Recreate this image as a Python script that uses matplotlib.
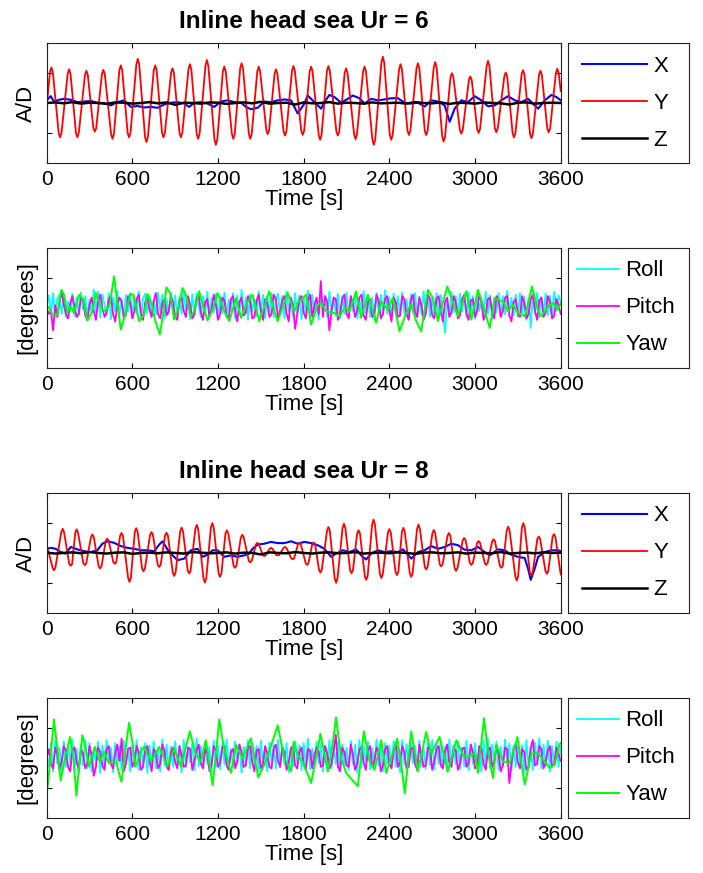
import numpy as np
import matplotlib.pyplot as plt

plt.rcParams['font.family'] = ['Liberation Sans', 'DejaVu Sans']

# ---------------- Ur = 6 : A/D motions ----------------
# Y (cross-flow) : extrema with shoulders, time [s]
y6_t = [0,
        23, 33, 43, 84, 94, 104,
        147, 157, 167, 205, 215, 225,
        268, 278, 288, 327, 337, 347,
        387, 397, 407, 451, 461, 471,
        509, 519, 529, 567, 577, 587,
        628, 638, 648, 689, 699, 709,
        750, 760, 770, 808, 818, 828,
        871, 881, 891, 930, 940, 950,
        993, 1003, 1013, 1051, 1061, 1071,
        1112, 1122, 1132, 1175, 1185, 1195,
        1234, 1244, 1254, 1297, 1307, 1317,
        1355, 1365, 1375, 1416, 1426, 1436,
        1475, 1485, 1495, 1538, 1548, 1558,
        1596, 1606, 1616, 1659, 1669, 1679,
        1718, 1728, 1738, 1783, 1793, 1803,
        1842, 1852, 1862, 1905, 1915, 1925,
        1963, 1973, 1983, 2029, 2039, 2049,
        2087, 2097, 2107, 2153, 2163, 2173,
        2216, 2226, 2236, 2281, 2291, 2301,
        2344, 2354, 2364, 2403, 2413, 2423,
        2468, 2478, 2488, 2527, 2537, 2547,
        2590, 2600, 2610, 2648, 2658, 2668,
        2711, 2721, 2731, 2770, 2780, 2790,
        2828, 2838, 2848, 2894, 2904, 2914,
        2957, 2967, 2977, 3015, 3025, 3035,
        3081, 3091, 3101, 3139, 3149, 3159,
        3205, 3215, 3225, 3263, 3273, 3283,
        3326, 3336, 3346, 3385, 3395, 3405,
        3448, 3458, 3468, 3506, 3516, 3526,
        3566, 3576, 3586, 3600]
y6_v = [-0.12,
        1.04, 1.19, 1.04, -1.0, -1.15, -1.0,
        0.98, 1.13, 0.98, -1.0, -1.15, -1.0,
        0.94, 1.08, 0.94, -0.84, -0.96, -0.84,
        0.97, 1.11, 0.97, -1.04, -1.2, -1.04,
        1.1, 1.26, 1.1, -1.0, -1.15, -1.0,
        1.29, 1.48, 1.29, -1.14, -1.31, -1.14,
        1.1, 1.26, 1.1, -1.0, -1.15, -1.0,
        1.01, 1.16, 1.01, -1.0, -1.15, -1.0,
        1.13, 1.3, 1.13, -1.04, -1.2, -1.04,
        1.25, 1.44, 1.25, -1.22, -1.4, -1.22,
        1.06, 1.22, 1.06, -1.04, -1.2, -1.04,
        1.16, 1.33, 1.16, -1.04, -1.2, -1.04,
        1.06, 1.22, 1.06, -0.9, -1.04, -0.9,
        0.98, 1.13, 0.98, -0.95, -1.09, -0.95,
        1.08, 1.24, 1.08, -0.93, -1.07, -0.93,
        1.06, 1.22, 1.06, -1.07, -1.23, -1.07,
        1.08, 1.24, 1.08, -0.95, -1.09, -0.95,
        1.01, 1.16, 1.01, -1.05, -1.21, -1.05,
        1.06, 1.22, 1.06, -1.22, -1.4, -1.22,
        1.35, 1.55, 1.35, -1.07, -1.23, -1.07,
        1.13, 1.3, 1.13, -0.93, -1.07, -0.93,
        1.16, 1.33, 1.16, -0.93, -1.07, -0.93,
        1.19, 1.37, 1.19, -1.12, -1.29, -1.12,
        0.87, 1.0, 0.87, -0.9, -1.03, -0.9,
        0.77, 0.89, 0.77, -0.87, -1.0, -0.87,
        1.23, 1.41, 1.23, -0.85, -0.98, -0.85,
        0.89, 1.02, 0.89, -1.0, -1.15, -1.0,
        0.96, 1.1, 0.96, -1.03, -1.18, -1.03,
        0.94, 1.08, 0.94, -0.85, -0.98, -0.85,
        1.0, 1.15, 1.0, 0.4]

# X (in-line)
x6_t = [0, 28, 51, 87, 122, 168, 215, 262, 309, 355, 402, 449, 496, 542, 589,
        636, 683, 729, 776, 823, 870, 917, 963, 998, 1033, 1080, 1127, 1174,
        1220, 1267, 1314, 1361, 1396, 1431, 1478, 1524, 1571, 1618, 1665, 1711,
        1758, 1805, 1828, 1875, 1922, 1945, 1980, 2015, 2062, 2109, 2144, 2191,
        2226, 2273, 2319, 2366, 2413, 2460, 2506, 2553, 2600, 2647, 2693, 2740,
        2787, 2822, 2857, 2904, 2951, 2997, 3044, 3091, 3138, 3184, 3231, 3278,
        3325, 3371, 3418, 3442, 3488, 3535, 3570, 3600]
x6_v = [0.09, 0.23, 0.05, 0.11, 0.14, 0.11, 0.03, 0.05, 0.07, 0.01, 0.0, -0.08,
        0.03, 0.09, -0.13, -0.1, -0.15, -0.13, -0.16, -0.05, 0.01, 0.03, -0.02,
        -0.13, 0.01, 0.03, -0.02, -0.13, 0.05, 0.09, 0.03, 0.01, -0.13, -0.21,
        -0.16, 0.05, 0.03, 0.09, 0.12, 0.09, -0.35, -0.02, 0.25, 0.03, -0.19,
        0.03, 0.27, 0.2, 0.01, 0.14, 0.25, 0.16, -0.02, 0.14, 0.09, 0.12, 0.16,
        0.16, 0.01, -0.02, 0.01, -0.12, 0.09, 0.05, -0.08, -0.63, -0.19, 0.09,
        0.03, 0.23, 0.09, -0.11, -0.08, 0.09, 0.23, 0.09, 0.03, 0.14, -0.08,
        -0.19, 0.09, 0.27, 0.2, 0.09]

# Z (vertical), 60 s samples
z6_v = [0.0, 0.02, -0.01, 0.03, -0.02, 0.01, 0.0, -0.03, 0.02, 0.01, -0.02,
        0.0, 0.03, -0.01, 0.02, -0.06, 0.01, 0.0, -0.02, 0.02, 0.01, -0.03,
        0.0, 0.02, -0.01, 0.04, -0.02, 0.0, 0.01, -0.05, 0.02, -0.01, 0.0,
        0.03, -0.02, 0.01, 0.0, -0.02, 0.02, -0.01, 0.0, 0.01, -0.02, 0.03,
        0.0, -0.01, 0.02, -0.03, 0.01, 0.0, -0.02, 0.02, 0.0, -0.01, -0.05,
        0.01, 0.02, -0.02, 0.0, 0.01, 0.0]

# ---------------- Ur = 6 : rotations [deg], 15 s samples ----------------
roll6 = [0.05, 0.42, -0.18, 0.5, -0.26, 0.3, 0.45, -0.2, 0.38, -0.3, 0.22, -0.12, 0.48, -0.28, 0.36, -0.22, 0.52, -0.05, 0.4, -0.3,
         0.28, -0.2, 0.62, -0.15, 0.55, -0.32, 0.46, 0.1, -0.25, 0.5, -0.38, 0.35, -0.1, 0.58, -0.22, 0.3, -0.35, 0.44, -0.12, 0.5,
         -0.26, 0.38, -0.2, 0.55, -0.4, 0.32, 0.48, -0.18, 0.4, -0.3, 0.26, -0.22, 0.52, -0.1, 0.45, -0.36, 0.3, -0.2, 0.5, -0.15,
         0.42, -0.32, 0.36, -0.2, 0.58, -0.1, 0.3, -0.38, 0.46, -0.25, 0.5, 0.05, -0.3, 0.4, -0.2, 0.55, -0.28, 0.34, -0.15, 0.48,
         -0.33, 0.4, -0.18, 0.52, -0.3, 0.28, -0.1, 0.5, -0.36, 0.42, -0.2, 0.6, -0.25, 0.35, -0.4, 0.46, -0.12, 0.3, -0.28, 0.55,
         -0.2, 0.44, -0.34, 0.38, -0.15, 0.5, -0.3, 0.26, 0.48, -0.22, 0.4, -0.35, 0.56, -0.1, 0.32, -0.28, 0.5, -0.2, 0.42, -0.38,
         0.36, -0.15, 0.58, -0.3, 0.45, -0.22, 0.3, -0.4, 0.5, -0.12, 0.4, -0.3, 0.55, -0.18, 0.34, -0.26, 0.48, -0.35, 0.4, -0.2,
         0.52, -0.28, 0.38, -0.1, 0.46, -0.35, 0.3, -0.22, 0.57, -0.18, 0.42, -0.3, 0.35, -0.4, 0.5, -0.15, 0.44, -0.25, 0.6, -0.2,
         0.36, -0.32, 0.48, -0.12, 0.4, -0.26, 0.53, -0.2, 0.3, -0.38, 0.45, -0.15, 0.5, -0.3, 0.38, -0.22, 0.56, -0.1, 0.42, -0.3,
         0.34, -0.25, 0.5, -0.35, 0.44, -0.2, -0.83, 0.3, -0.28, 0.55, -0.15, 0.4, -0.32, 0.48, -0.12, 0.36, -0.3, 0.52, -0.22, 0.4,
         -0.36, 0.46, -0.1, 0.3, -0.28, 0.55, -0.2, 0.42, -0.38, 0.35, -0.15, 0.5, -0.3, 0.4, -0.22, 0.58, -0.12, 0.34, -0.26, 0.45,
         -0.3, 0.5, -0.18, 0.38, -0.4, 0.3, -0.67, 0.44, -0.2, 0.52, -0.32, 0.36, -0.15, 0.48, -0.25, 0.4, -0.35, 0.55, -0.1, 0.42,
         0.2]
pitch6 = [0.0, -0.2, -0.1, -0.75, 0.1, -0.3, 0.2, 0.55, 0.1, -0.2, -0.35, 0.15, 0.4, 0.05, -0.3, -0.2, 0.35, 0.3, -0.25, -0.4,
          0.1, 0.35, -0.1, -0.4, 0.2, 0.45, 0.0, -0.3, -0.15, 0.3, 0.4, -0.2, -0.45, 0.1, 0.35, 0.2, -0.3, -0.25, 0.4, 0.15,
          -0.35, -0.1, 0.3, 0.45, -0.15, -0.4, 0.2, 0.35, -0.05, -0.3, 0.25, 0.5, -0.2, -0.35, 0.15, 0.3, -0.25, -0.1, 0.4, 0.2,
          -0.3, -0.4, 0.25, 0.35, -0.1, -0.3, 0.4, 0.1, -0.35, -0.2, 0.3, 0.45, -0.15, -0.4, 0.2, 0.3, -0.3, -0.05, 0.45, 0.1,
          -0.4, -0.2, 0.35, 0.25, -0.3, -0.35, 0.3, 0.4, -0.1, -0.45, 0.2, 0.35, -0.25, -0.15, 0.4, 0.2, -0.35, -0.3, 0.25, 0.45,
          -0.1, -0.4, 0.3, 0.15, -0.3, -0.2, 0.45, 0.3, -0.35, -0.1, 0.25, 0.4, -0.2, -0.45, 0.35, 0.1, -0.7, -0.2, 0.3, 0.4,
          -0.15, -0.35, 0.25, 0.45, -0.3, 0.1, 0.35, -0.2, 0.9, -0.3, 0.4, 0.2, -0.75, -0.1, 0.35, 0.3, -0.4, -0.2, 0.3, 0.45,
          -0.2, -0.35, 0.4, 0.15, -0.3, -0.1, 0.35, 0.45, -0.25, -0.4, 0.2, 0.3, -0.3, -0.15, 0.45, 0.25, -0.35, -0.2, 0.3, 0.4,
          -0.1, -0.45, 0.35, 0.2, -0.3, -0.25, 0.4, 0.3, -0.2, -0.4, 0.25, 0.45, -0.15, -0.3, 0.35, 0.1, -0.4, -0.2, 0.45, 0.3,
          -0.25, -0.35, 0.3, 0.4, -0.1, -0.45, 0.2, 0.35, -0.3, -0.15, 0.4, 0.2, -0.35, -0.25, 0.3, 0.45, -0.2, -0.4, 0.25, 0.3,
          -0.3, -0.1, 0.45, 0.2, -0.4, -0.2, 0.3, 0.35, -0.15, -0.35, 0.4, 0.25, -0.3, -0.1, 0.35, 0.4, -0.25, -0.45, 0.2, 0.3,
          -0.2, -0.3, 0.4, 0.15, -0.35, -0.2, 0.3, 0.45, -0.1, -0.4, 0.25, 0.35, -0.3, -0.15, 0.4, 0.2, -0.35, -0.25, 0.3, 0.1,
          -0.2]
yaw6_t = [0, 16, 40, 75, 103, 122, 145, 168, 192, 227, 257, 285, 320, 344, 367,
          390, 414, 444, 472, 491, 519, 554, 585, 608, 648, 683, 706, 734, 758,
          793, 811, 839, 865, 893, 917, 952, 975, 1010, 1033, 1068, 1092, 1127,
          1162, 1197, 1244, 1279, 1326, 1361, 1407, 1442, 1489, 1559, 1594, 1618,
          1688, 1735, 1758, 1817, 1852, 1898, 1922, 1957, 2015, 2050, 2086, 2121,
          2167, 2202, 2249, 2308, 2343, 2389, 2424, 2471, 2518, 2553, 2588, 2623,
          2670, 2705, 2740, 2806, 2838, 2880, 2939, 2974, 3021, 3068, 3103, 3138,
          3161, 3196, 3231, 3266, 3301, 3348, 3399, 3442, 3465, 3512, 3547, 3582,
          3600]
yaw6_v = [0.06, 0.02, -0.22, -0.22, 0.61, 0.44, -0.17, 0.06, -0.17, 0.44, 0.28,
          -0.42, -0.11, 0.5, 0.22, -0.06, -0.11, 0.17, 1.06, 0.33, -0.72, -0.17,
          0.47, 0.44, -0.44, -0.22, 0.47, 0.17, -0.39, -0.89, -0.33, 0.69, 0.5,
          -0.39, -0.11, 0.67, 0.44, -0.28, -0.11, 0.56, 0.11, -0.42, -0.06, 0.5,
          -0.11, -0.44, 0.33, -0.33, 0.2, 0.44, -0.44, 0.56, -0.11, -0.44, 0.5,
          -0.11, 0.17, 0.44, -0.56, 0.11, 0.17, -0.11, -0.17, -0.28, 0.0, -0.11,
          0.56, -0.33, 0.44, -0.5, 0.22, -0.06, 0.33, -0.78, -0.17, 0.11, -0.44,
          -0.78, 0.61, 0.33, -0.44, 0.72, 0.28, -0.28, 0.56, -0.39, 0.61, -0.11,
          -0.67, 0.33, 0.28, 0.22, -0.11, 0.11, -0.17, -0.28, 0.72, -0.11, -0.28,
          0.06, 0.17, -0.06, 0.17]

# ---------------- Ur = 8 : A/D motions ----------------
y8_t = [0,
        41, 51, 61, 102, 112, 122,
        158, 168, 178, 200, 210, 220,
        257, 267, 277, 310, 320, 330,
        364, 374, 384, 414, 424, 434,
        467, 477, 487, 514, 524, 534,
        570, 580, 590, 617, 627, 637,
        668, 678, 688, 724, 734, 744,
        778, 788, 798, 829, 839, 849,
        883, 893, 903, 935, 945, 955,
        988, 998, 1008, 1041, 1051, 1061,
        1098, 1108, 1118, 1150, 1160, 1170,
        1204, 1214, 1224, 1252, 1262, 1272,
        1309, 1319, 1329, 1360, 1370, 1380,
        1416, 1426, 1436, 1466, 1476, 1486,
        1514, 1524, 1534, 1561, 1571, 1581,
        1608, 1618, 1628, 1659, 1669, 1679,
        1713, 1723, 1733, 1760, 1770, 1780,
        1814, 1824, 1834, 1860, 1870, 1880,
        1907, 1917, 1927, 1963, 1973, 1983,
        2017, 2027, 2037, 2072, 2082, 2092,
        2125, 2135, 2145, 2174, 2184, 2194,
        2228, 2238, 2248, 2279, 2289, 2299,
        2334, 2344, 2354, 2390, 2400, 2410,
        2443, 2453, 2463, 2488, 2498, 2508,
        2543, 2553, 2563, 2594, 2604, 2614,
        2648, 2658, 2668, 2701, 2711, 2721,
        2753, 2763, 2773, 2807, 2817, 2827,
        2857, 2867, 2877, 2914, 2924, 2934,
        2964, 2974, 2984, 3015, 3025, 3035,
        3068, 3078, 3088, 3120, 3130, 3140,
        3174, 3184, 3194, 3222, 3232, 3242,
        3282, 3292, 3302, 3328, 3338, 3348,
        3384, 3394, 3404, 3436, 3446, 3456,
        3493, 3503, 3513, 3543, 3553, 3563,
        3600]
y8_v = [0.28,
        -0.49, -0.58, -0.49, 0.69, 0.81, 0.69,
        -0.37, -0.43, -0.37, 0.67, 0.79, 0.67,
        -0.35, -0.41, -0.35, 0.53, 0.62, 0.53,
        -0.44, -0.52, -0.44, 0.41, 0.48, 0.41,
        -0.31, -0.36, -0.31, 0.57, 0.67, 0.57,
        -0.82, -0.97, -0.82, 0.71, 0.83, 0.71,
        -0.52, -0.61, -0.52, 0.6, 0.7, 0.6,
        -0.4, -0.47, -0.4, 0.58, 0.68, 0.58,
        -0.65, -0.77, -0.65, 0.72, 0.85, 0.72,
        -0.59, -0.69, -0.59, 0.8, 0.94, 0.8,
        -0.84, -0.99, -0.84, 0.85, 1.0, 0.85,
        -0.68, -0.8, -0.68, 0.65, 0.76, 0.65,
        -0.43, -0.5, -0.43, 0.52, 0.61, 0.52,
        -0.27, -0.32, -0.27, 0.29, 0.34, 0.29,
        -0.08, -0.1, -0.08, 0.14, 0.17, 0.14,
        -0.07, -0.08, -0.07, 0.17, 0.2, 0.17,
        -0.18, -0.21, -0.18, 0.29, 0.34, 0.29,
        -0.34, -0.4, -0.34, 0.3, 0.35, 0.3,
        -0.56, -0.66, -0.56, 0.74, 0.87, 0.74,
        -0.85, -1.0, -0.85, 0.83, 0.98, 0.83,
        -0.58, -0.68, -0.58, 0.65, 0.76, 0.65,
        -0.77, -0.9, -0.77, 0.95, 1.12, 0.95,
        -0.71, -0.84, -0.71, 0.68, 0.8, 0.68,
        -0.63, -0.74, -0.63, 0.71, 0.84, 0.71,
        -0.68, -0.8, -0.68, 0.81, 0.95, 0.81,
        -0.47, -0.55, -0.47, 0.65, 0.77, 0.65,
        -0.38, -0.45, -0.38, 0.57, 0.67, 0.57,
        -0.51, -0.6, -0.51, 0.43, 0.5, 0.43,
        -0.34, -0.4, -0.34, 0.34, 0.4, 0.34,
        -0.34, -0.4, -0.34, 0.39, 0.46, 0.39,
        -0.43, -0.5, -0.43, 0.75, 0.88, 0.75,
        -0.78, -0.92, -0.78, 0.85, 1.0, 0.85,
        -0.65, -0.76, -0.65, 0.47, 0.55, 0.47,
        -0.6, -0.7, -0.6, 0.54, 0.63, 0.54,
        -0.72]

x8_t = [0, 28, 63, 98, 133, 168, 215, 262, 309, 355, 390, 426, 472, 519, 566,
        613, 659, 706, 753, 788, 811, 846, 881, 917, 963, 1010, 1057, 1092, 1127,
        1162, 1197, 1244, 1291, 1337, 1384, 1419, 1442, 1478, 1524, 1571, 1618,
        1665, 1711, 1758, 1805, 1852, 1898, 1945, 1992, 2027, 2074, 2121, 2167,
        2202, 2237, 2273, 2319, 2366, 2413, 2460, 2495, 2530, 2553, 2600, 2647,
        2693, 2740, 2787, 2834, 2880, 2927, 2974, 3021, 3068, 3103, 3161, 3208,
        3254, 3301, 3348, 3371, 3390, 3418, 3442, 3488, 3535, 3582, 3600]
x8_v = [0.14, 0.17, 0.14, 0.03, -0.02, 0.2, 0.12, 0.06, 0.03, 0.09, 0.31, 0.39,
        0.34, 0.23, 0.17, 0.14, 0.09, 0.09, 0.06, 0.28, 0.39, 0.12, -0.08, -0.24,
        -0.19, 0.09, 0.14, -0.13, -0.06, 0.09, 0.09, -0.13, -0.08, -0.13, -0.08,
        -0.02, 0.14, 0.28, 0.31, 0.37, 0.33, 0.33, 0.39, 0.31, 0.37, 0.33, 0.26,
        0.14, -0.13, -0.02, 0.09, 0.03, 0.12, -0.08, -0.22, -0.02, 0.09, 0.03,
        0.06, 0.03, 0.12, -0.06, -0.19, 0.03, 0.09, 0.23, 0.14, 0.2, 0.31, 0.26,
        0.11, 0.09, 0.2, 0.03, -0.08, 0.12, 0.09, -0.06, -0.13, -0.17, -0.52,
        -0.9, -0.52, -0.13, 0.03, 0.09, 0.09, 0.06]

z8_v = [0.01, -0.02, 0.0, 0.02, -0.01, 0.03, 0.0, -0.02, 0.01, 0.02, -0.03,
        0.0, 0.01, -0.01, 0.02, 0.0, -0.02, 0.03, 0.01, -0.01, 0.0, 0.02,
        -0.02, 0.01, 0.0, -0.05, 0.02, 0.0, -0.01, 0.03, 0.0, -0.02, 0.01,
        0.02, -0.01, 0.0, 0.03, -0.02, 0.0, 0.01, -0.01, 0.02, 0.0, -0.03,
        0.01, 0.02, -0.01, 0.0, 0.02, -0.02, 0.01, 0.0, -0.01, 0.03, -0.02,
        0.0, 0.01, -0.01, 0.02, 0.0, 0.01]

# ---------------- Ur = 8 : rotations [deg], 15 s samples ----------------
roll8 = [0.1, -0.3, 0.5, -0.45, 0.6, -0.2, 0.35, -0.5, 0.55, -0.3, 0.4, -0.15, 0.62, -0.4, 0.3, -0.55, 0.45, -0.25, 0.6, -0.35,
         0.5, -0.45, 0.3, -0.2, 0.55, -0.5, 0.42, -0.3, 0.6, -0.15, 0.35, -0.48, 0.5, -0.25, 0.4, -0.38, 0.58, -0.2, 0.32, -0.45,
         0.48, -0.3, 0.6, -0.4, 0.36, -0.22, 0.5, -0.5, 0.42, -0.18, 0.55, -0.35, 0.3, -0.45, 0.62, -0.25, 0.45, -0.4, 0.38, -0.3,
         0.55, -0.2, 0.4, -0.48, 0.6, -0.32, 0.35, -0.15, 0.5, -0.42, 0.66, -0.28, 0.4, -0.35, 0.52, -0.2, 0.36, -0.45, 0.58, -0.3,
         0.42, -0.38, 0.5, -0.22, 0.62, -0.4, 0.3, -0.3, 0.55, -0.18, 0.45, -0.5, 0.38, -0.25, 0.6, -0.35, 0.48, -0.2, 0.4, -0.42,
         0.58, -0.28, 0.35, -0.45, 0.52, -0.15, 0.44, -0.36, 0.62, -0.3, 0.4, -0.22, 0.5, -0.48, 0.36, -0.3, 0.56, -0.2, 0.42, -0.4,
         0.5, -0.25, 0.64, -0.38, 0.32, -0.3, 0.55, -0.18, 0.45, -0.46, 0.4, -0.28, 0.6, -0.35, 0.38, -0.2, 0.52, -0.42, 0.46, -0.3,
         0.35, -0.4, 0.58, -0.22, 0.44, -0.5, 0.6, -0.3, 0.4, -0.15, 0.55, -0.38, 0.34, -0.28, 0.62, -0.25, 0.45, -0.45, 0.5, -0.2,
         0.42, -0.35, 0.56, -0.3, 0.38, -0.48, 0.6, -0.22, 0.46, -0.32, 0.52, -0.18, 0.4, -0.44, 0.58, -0.28, 0.36, -0.36, 0.5, -0.25,
         0.6, -0.4, 0.44, -0.2, 0.52, -0.34, 0.38, -0.46, 0.62, -0.3, 0.42, -0.22, 0.55, -0.38, 0.35, -0.28, 0.58, -0.42, 0.46, -0.2,
         0.5, -0.3, 0.4, -0.45, 0.6, -0.25, 0.66, -0.35, 0.45, -0.2, 0.55, -0.4, 0.38, -0.3, 0.62, -0.18, 0.48, -0.44, 0.4, -0.3,
         0.56, -0.22, 0.42, -0.5, 0.6, -0.32, 0.36, -0.4, 0.52, -0.2, 0.66, -0.35, 0.44, -0.28, 0.58, -0.45, 0.4, -0.25, 0.55, -0.3,
         0.4]
pitch8 = [0.0, 0.3, -0.2, -0.35, 0.35, 0.1, -0.4, -0.1, 0.4, 0.2, -0.3, -0.45, 0.25, 0.35, -0.15, -0.4, 0.3, 0.15, -0.35, -0.2,
          0.4, 0.1, -0.6, -0.3, 0.35, 0.2, -0.25, -0.4, 0.3, 0.4, -0.2, -0.35, 0.15, 0.45, -0.1, 0.65, -0.45, -0.2, 0.3, 0.35,
          -0.3, -0.15, 0.4, 0.2, -0.4, -0.3, 0.25, 0.4, -0.1, -0.45, 0.3, 0.15, -0.35, -0.2, 0.45, 0.25, -0.3, -0.4, 0.2, 0.35,
          -0.15, -0.35, 0.4, 0.1, -0.3, -0.25, 0.35, 0.3, -0.4, -0.1, 0.25, 0.45, -0.2, -0.35, 0.3, 0.15, -0.45, -0.2, 0.4, 0.25,
          -0.3, -0.15, 0.35, 0.4, -0.25, -0.4, 0.2, 0.3, -0.35, -0.1, 0.45, 0.2, -0.3, -0.25, 0.35, 0.4, -0.15, -0.45, 0.25, 0.3,
          -0.35, -0.2, 0.4, 0.15, -0.3, -0.35, 0.3, 0.45, -0.1, -0.3, 0.35, 0.2, -0.4, -0.15, 0.3, 0.4, -0.25, -0.35, 0.2, 0.35,
          -0.2, -0.4, 0.3, 0.25, -0.35, 0.1, 0.35, 0.2, -0.3, -0.25, 0.4, 0.15, -0.35, -0.2, 0.25, 0.78, -0.3, -0.45, 0.35, 0.2,
          -0.25, -0.3, 0.45, 0.1, -0.4, -0.2, 0.3, 0.35, -0.15, -0.4, 0.25, 0.4, -0.3, -0.1, 0.35, 0.2, -0.45, -0.25, 0.3, 0.4,
          -0.2, -0.35, 0.25, 0.45, -0.3, -0.15, 0.4, 0.2, -0.35, -0.3, 0.3, 0.35, -0.2, -0.4, 0.45, 0.1, -0.3, -0.25, 0.35, 0.3,
          -0.4, -0.1, 0.3, 0.4, -0.25, -0.35, 0.2, 0.45, -0.15, -0.3, 0.35, 0.25, -0.4, -0.2, 0.3, 0.35, -0.3, -0.15, 0.45, 0.2,
          -0.35, -0.25, 0.4, 0.3, -0.2, -0.4, 0.25, 0.35, -0.3, -0.1, 0.4, 0.15, -0.45, -0.25, 0.35, 0.3, -0.84, -0.2, 0.3, 0.45,
          -0.15, -0.35, 0.3, 0.2, -0.4, -0.3, 0.35, 0.6, -0.25, -0.2, 0.4, 0.3, -0.35, -0.15, 0.25, 0.4, -0.3, -0.2, 0.35, 0.1,
          -0.1]
yaw8_t = [0, 23, 51, 75, 98, 133, 164, 187, 208, 229, 250, 274, 297, 337, 374,
          402, 437, 484, 524, 550, 577, 601, 624, 659, 683, 729, 788, 846, 893,
          940, 1003, 1045, 1080, 1115, 1162, 1185, 1209, 1232, 1255, 1291, 1326,
          1372, 1431, 1482, 1524, 1571, 1618, 1665, 1711, 1730, 1758, 1793, 1852,
          1887, 1917, 1969, 2004, 2027, 2062, 2097, 2179, 2221, 2261, 2296, 2343,
          2378, 2413, 2455, 2483, 2508, 2553, 2600, 2658, 2693, 2752, 2810, 2869,
          2916, 2951, 2997, 3021, 3063, 3091, 3126, 3149, 3196, 3243, 3297, 3348,
          3395, 3442, 3488, 3523, 3558, 3593, 3600]
yaw8_v = [-1.27, -0.2, 1.29, 0.3, -0.76, 0.1, 0.7, 0.0, -1.27, -0.2, 0.76, 0.3,
          -0.29, 0.37, -0.12, 0.21, -0.18, -0.12, -0.8, 0.2, 1.18, 0.5, -0.29,
          0.21, 0.37, -0.12, 0.37, -0.29, 0.32, -0.29, 0.89, 0.1, -0.12, 0.59,
          -0.91, 0.1, 1.29, 0.6, 0.1, -0.5, 0.43, -0.01, 0.65, -0.65, -0.23, 0.4,
          1.09, 0.0, -0.45, 0.54, 0.1, -0.12, -0.84, 0.0, 0.81, -0.45, 0.5, 1.36,
          0.0, -0.5, -0.95, 0.89, -0.1, -0.4, 0.59, -0.5, 0.0, 0.64, -0.2, -1.19,
          0.89, -0.45, 0.87, 0.15, 0.7, -0.45, 0.59, 0.1, 0.04, 0.15, -0.5, 1.33,
          0.2, -0.67, 0.43, -0.12, -0.18, 0.7, -0.89, 0.15, 0.15, -0.12, -0.34,
          -0.23, 0.48, 0.5]

xticks = [0, 600, 1200, 1800, 2400, 3000, 3600]

fig = plt.figure(figsize=(7.03, 8.73), dpi=100)

ax_l, ax_w, ax_h = 0.0664, 0.7312, 0.1368
lg_l, lg_w = 0.808, 0.172
bottoms = [0.8136, 0.5788, 0.2982, 0.0634]


def setup(ax, ylabel):
    ax.set_xlim(0, 3600)
    ax.set_ylim(-2, 2)
    ax.set_xticks(xticks)
    ax.set_yticks([-1, 1])
    ax.set_yticklabels([])
    ax.tick_params(direction='in', top=True, right=True, length=3.5,
                   width=0.8, labelsize=15, pad=5)
    for s in ax.spines.values():
        s.set_linewidth(0.8)
        s.set_color('#222222')
    ax.set_xlabel('Time [s]', fontsize=16, labelpad=0)
    ax.set_ylabel(ylabel, fontsize=16, labelpad=2)


def legend_box(bottom, lines, labels, hlen, x0):
    lax = fig.add_axes([lg_l, bottom, lg_w, ax_h])
    lax.set_xticks([])
    lax.set_yticks([])
    for s in lax.spines.values():
        s.set_linewidth(0.8)
        s.set_color('#222222')
    lax.legend(lines, labels, loc='center left', bbox_to_anchor=(x0, 0.5),
               frameon=False, fontsize=16, handlelength=hlen,
               handletextpad=0.27, labelspacing=0.72, borderpad=0,
               borderaxespad=0)


def motion_panel(bottom, title, xt, xv, yt, yv, zv):
    ax = fig.add_axes([ax_l, bottom, ax_w, ax_h])
    tz = np.linspace(0, 3600, len(zv))
    l1, = ax.plot(xt, xv, color='#0000ff', lw=1.5)
    l2, = ax.plot(yt, yv, color='#ff0000', lw=1.3)
    l3, = ax.plot(tz, zv, color='k', lw=1.8)
    setup(ax, 'A/D')
    ax.set_title(title, fontsize=17.5, fontweight='bold', pad=11)
    legend_box(bottom, [l1, l2, l3], ['X', 'Y', 'Z'], 2.93, 0.116)


def rotation_panel(bottom, roll, pitch, yt, yv):
    ax = fig.add_axes([ax_l, bottom, ax_w, ax_h])
    tr = np.linspace(0, 3600, len(roll))
    tp = np.linspace(0, 3600, len(pitch))
    l1, = ax.plot(tr, roll, color='#00ffff', lw=1.3)
    l2, = ax.plot(tp, pitch, color='#ff00ff', lw=1.3)
    l3, = ax.plot(yt, yv, color='#00ff00', lw=1.4)
    setup(ax, '[degrees]')
    legend_box(bottom, [l1, l2, l3], ['Roll', 'Pitch', 'Yaw'], 1.9, 0.074)


motion_panel(bottoms[0], 'Inline head sea Ur = 6', x6_t, x6_v, y6_t, y6_v, z6_v)
rotation_panel(bottoms[1], roll6, pitch6, yaw6_t, yaw6_v)
motion_panel(bottoms[2], 'Inline head sea Ur = 8', x8_t, x8_v, y8_t, y8_v, z8_v)
rotation_panel(bottoms[3], roll8, pitch8, yaw8_t, yaw8_v)

fig.savefig('out.png', dpi=100, facecolor='white')
